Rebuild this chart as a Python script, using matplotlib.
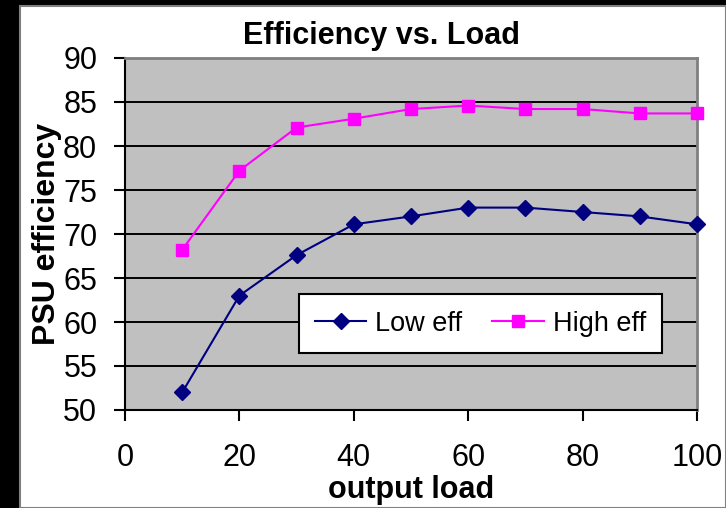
import matplotlib
matplotlib.use('Agg')
import matplotlib.pyplot as plt
from matplotlib.patches import Rectangle

plt.rcParams['font.family'] = ['Liberation Sans', 'DejaVu Sans']

load = [10, 20, 30, 40, 50, 60, 70, 80, 90, 100]
low_eff = [52.0, 63.0, 67.6, 71.1, 72.0, 73.0, 73.0, 72.5, 72.0, 71.1]
high_eff = [68.2, 77.2, 82.1, 83.1, 84.2, 84.6, 84.2, 84.2, 83.7, 83.7]
xticks = [0, 20, 40, 60, 80, 100]
yticks = [50, 55, 60, 65, 70, 75, 80, 85, 90]

fig = plt.figure(figsize=(7.26, 5.08), dpi=100, facecolor='black')
# white sheet with the black margin showing at left and top
fig.patches.append(Rectangle((20 / 726, 0), 1 - 20 / 726, 1 - 6 / 508,
                             transform=fig.transFigure, facecolor='white',
                             edgecolor='#808080', linewidth=1.5, zorder=-5))

ax = fig.add_axes([125 / 726, 1 - 410 / 508, 572 / 726, 352 / 508])
ax.set_facecolor('#C0C0C0')

ax.plot(load, low_eff, color='#000080', marker='D', markersize=8.5,
        linewidth=1.5, label='Low eff', clip_on=False, zorder=3)
ax.plot(load, high_eff, color='#FF00FF', marker='s', markersize=9,
        linewidth=1.5, label='High eff', clip_on=False, zorder=3)

ax.set_xlim(0, 100)
ax.set_ylim(50, 90)
ax.set_xticks(xticks)
ax.set_yticks(yticks)
ax.yaxis.grid(True, color='black', linewidth=1.4)
ax.set_axisbelow(True)

for side in ['left', 'bottom']:
    ax.spines[side].set_color('black')
    ax.spines[side].set_linewidth(1.5)
for side in ['top', 'right']:
    ax.spines[side].set_color('#808080')
    ax.spines[side].set_linewidth(2)

ax.tick_params(axis='both', direction='out', length=8, width=1.5,
               labelsize=22, colors='black')
ax.tick_params(axis='y', pad=12)
ax.tick_params(axis='x', pad=16)

ax.set_title('Efficiency vs. Load', fontsize=22, fontweight='bold', pad=10,
             x=0.448)
ax.set_xlabel('output load', fontsize=22, fontweight='bold')
ax.xaxis.set_label_coords(0.5, -0.184)
ax.set_ylabel('PSU efficiency', fontsize=23, fontweight='bold')
ax.yaxis.set_label_coords(-0.11, 0.5)

leg = ax.legend(ncol=2, loc='lower right', bbox_to_anchor=(0.939, 0.162),
                fontsize=19.5, fancybox=False, framealpha=1, edgecolor='black',
                handlelength=1.9, handletextpad=0.33, columnspacing=1.1,
                borderpad=0.6, borderaxespad=0)
leg.get_frame().set_linewidth(1.5)

fig.savefig('out.png', dpi=100, facecolor=fig.get_facecolor())
